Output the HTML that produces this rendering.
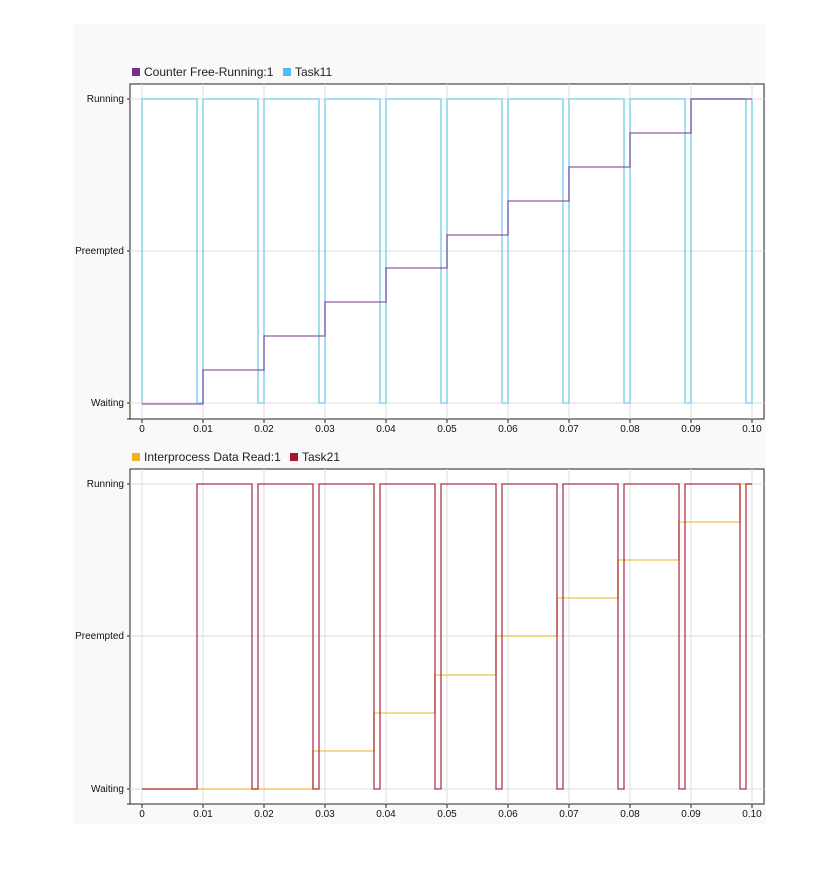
<!DOCTYPE html>
<html><head><style>
body{margin:0;background:#fff;}
svg{display:block;font-family:"Liberation Sans",sans-serif;}
</style></head><body>
<svg width="839" height="872" viewBox="0 0 839 872">
<rect x="73" y="24" width="693" height="800" fill="#f9f9f9"/>
<g id="p1">
<rect x="130" y="84" width="634" height="335" fill="#fff" stroke="#222" stroke-width="1"/>
<g stroke="#ddd" stroke-width="1">
<path d="M142 84V419M203 84V419M264 84V419M325 84V419M386 84V419M447 84V419M508 84V419M569 84V419M630 84V419M691 84V419M752 84V419M130 99H764M130 251H764M130 403H764"/>
</g>
<path d="M142 403V99H197V403H203V99H258V403H264V99H319V403H325V99H380V403H386V99H441V403H447V99H502V403H508V99H563V403H569V99H624V403H630V99H685V403H691V99H746V403H752V99" fill="none" stroke="#8ed3ef" stroke-width="1.6"/>
<path d="M142 404H203V370H264V336H325V302H386V268H447V235H508V201H569V167H630V133H691V99H752" fill="none" stroke="#7d3c98" stroke-opacity="0.7" stroke-width="1.4"/>
<g stroke="#222"><path d="M127 99H130M127 251H130M127 403H130M127 419H130M142 419V423M203 419V423M264 419V423M325 419V423M386 419V423M447 419V423M508 419V423M569 419V423M630 419V423M691 419V423M752 419V423"/></g>
<g font-size="10" text-anchor="end" fill="#111"><text x="124" y="102">Running</text><text x="124" y="254">Preempted</text><text x="124" y="406">Waiting</text></g>
<g font-size="10" text-anchor="middle" fill="#111"><text x="142" y="432">0</text><text x="203" y="432">0.01</text><text x="264" y="432">0.02</text><text x="325" y="432">0.03</text><text x="386" y="432">0.04</text><text x="447" y="432">0.05</text><text x="508" y="432">0.06</text><text x="569" y="432">0.07</text><text x="630" y="432">0.08</text><text x="691" y="432">0.09</text><text x="752" y="432">0.10</text></g>
<rect x="132" y="68" width="8" height="8" fill="#7b2d8e"/><text x="144" y="76" font-size="12" fill="#222">Counter Free-Running:1</text>
<rect x="283" y="68" width="8" height="8" fill="#4dbeee"/><text x="295" y="76" font-size="12" fill="#222">Task11</text>
</g>
<g id="p2">
<rect x="130" y="469" width="634" height="335" fill="#fff" stroke="#222" stroke-width="1"/>
<g stroke="#ddd" stroke-width="1">
<path d="M142 469V804M203 469V804M264 469V804M325 469V804M386 469V804M447 469V804M508 469V804M569 469V804M630 469V804M691 469V804M752 469V804M130 484H764M130 636H764M130 789H764"/>
</g>
<path d="M142 789H313V751H374V713H435V675H496V636H557V598H618V560H679V522H740V484H752" fill="none" stroke="#edb120" stroke-opacity="0.8" stroke-width="1.3"/>
<path d="M142 789H197V484H252V789H258V484H313V789H319V484H374V789H380V484H435V789H441V484H496V789H502V484H557V789H563V484H618V789H624V484H679V789H685V484H740V789H746V484H752" fill="none" stroke="#a2142f" stroke-opacity="0.85" stroke-width="1.3"/>
<g stroke="#222"><path d="M127 484H130M127 636H130M127 789H130M127 804H130M142 804V808M203 804V808M264 804V808M325 804V808M386 804V808M447 804V808M508 804V808M569 804V808M630 804V808M691 804V808M752 804V808"/></g>
<g font-size="10" text-anchor="end" fill="#111"><text x="124" y="487">Running</text><text x="124" y="639">Preempted</text><text x="124" y="792">Waiting</text></g>
<g font-size="10" text-anchor="middle" fill="#111"><text x="142" y="817">0</text><text x="203" y="817">0.01</text><text x="264" y="817">0.02</text><text x="325" y="817">0.03</text><text x="386" y="817">0.04</text><text x="447" y="817">0.05</text><text x="508" y="817">0.06</text><text x="569" y="817">0.07</text><text x="630" y="817">0.08</text><text x="691" y="817">0.09</text><text x="752" y="817">0.10</text></g>
<rect x="132" y="453" width="8" height="8" fill="#edb120"/><text x="144" y="461" font-size="12" fill="#222">Interprocess Data Read:1</text>
<rect x="290" y="453" width="8" height="8" fill="#a2142f"/><text x="302" y="461" font-size="12" fill="#222">Task21</text>
</g>
</svg>
</body></html>
